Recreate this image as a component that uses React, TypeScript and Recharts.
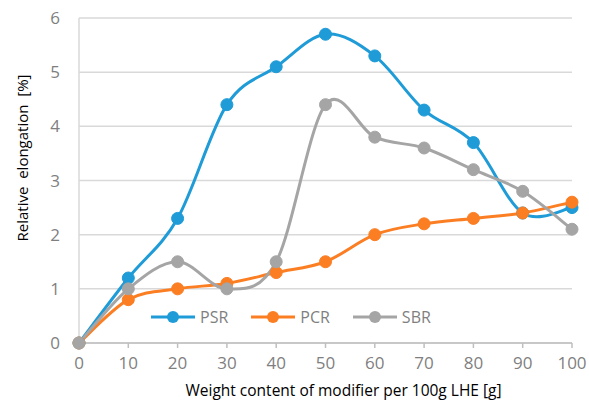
import { CartesianGrid, Line, LineChart, XAxis, YAxis } from "recharts"

const xValues = [0, 10, 20, 30, 40, 50, 60, 70, 80, 90, 100]
const psr = [0, 1.2, 2.3, 4.4, 5.1, 5.7, 5.3, 4.3, 3.7, 2.4, 2.5]
const pcr = [0, 0.8, 1.0, 1.1, 1.3, 1.5, 2.0, 2.2, 2.3, 2.4, 2.6]
const sbr = [0, 1.0, 1.5, 1.0, 1.5, 4.4, 3.8, 3.6, 3.2, 2.8, 2.1]
const yTicks = [0, 1, 2, 3, 4, 5, 6]

const data = xValues.map((x, i) => ({ x, PSR: psr[i], PCR: pcr[i], SBR: sbr[i] }))

const series = [
  { key: "PSR", color: "#1f9bd7" },
  { key: "PCR", color: "#fb7e23" },
  { key: "SBR", color: "#a5a5a5" },
]

// Excel style smoothing (uniform Catmull-Rom as bezier segments)
function smooth(context: any) {
  let pts: number[][] = []
  return {
    areaStart() {},
    areaEnd() {},
    lineStart() {
      pts = []
    },
    point(x: number, y: number) {
      pts.push([+x, +y])
    },
    lineEnd() {
      const n = pts.length
      if (!n) return
      context.moveTo(pts[0][0], pts[0][1])
      for (let i = 0; i < n - 1; i++) {
        const p0 = pts[Math.max(i - 1, 0)]
        const p1 = pts[i]
        const p2 = pts[i + 1]
        const p3 = pts[Math.min(i + 2, n - 1)]
        context.bezierCurveTo(
          p1[0] + (p2[0] - p0[0]) / 6,
          p1[1] + (p2[1] - p0[1]) / 6,
          p2[0] - (p3[0] - p1[0]) / 6,
          p2[1] - (p3[1] - p1[1]) / 6,
          p2[0],
          p2[1]
        )
      }
    },
  }
}

const font = "'Open Sans', 'Noto Sans', sans-serif"

function LegendBox() {
  return (
    <div
      style={{
        position: "absolute",
        top: 308,
        left: 150,
        display: "flex",
        gap: 22,
        fontFamily: font,
        fontSize: 16,
        lineHeight: "18px",
        color: "#7f7f7f",
      }}
    >
      {series.map((s) => (
        <div key={s.key} style={{ display: "flex", alignItems: "center" }}>
          <svg width={46} height={14}>
            <line x1={1} y1={7} x2={45} y2={7} stroke={s.color} strokeWidth={3} />
            <circle cx={23} cy={7} r={6} fill={s.color} />
          </svg>
          <span style={{ marginLeft: 4 }}>{s.key}</span>
        </div>
      ))}
    </div>
  )
}

const YTitle = () => (
  <text
    x={22}
    y={158}
    transform="rotate(-90 22 158)"
    textAnchor="middle"
    dominantBaseline="central"
    fill="#000"
    fontSize={15}
    fontFamily={font}
    style={{ whiteSpace: "pre" }}
  >
    Relative  elongation  [%]
  </text>
)

export default function App() {
  return (
    <div style={{ position: "absolute", left: 0, top: 0, width: 589, height: 403, background: "#fff" }}>
      <LineChart width={589} height={403} data={data} margin={{ top: 18, right: 17, bottom: 0, left: 0 }}>
        <CartesianGrid vertical={false} stroke="#d9d9d9" strokeWidth={1.5} />
        <XAxis
          dataKey="x"
          type="number"
          domain={[0, 100]}
          ticks={xValues}
          height={60}
          stroke="#bfbfbf"
          strokeWidth={1.5}
          tickSize={5}
          tickMargin={9}
          tick={{ fill: "#7f7f7f", fontSize: 17, fontFamily: font }}
          label={{ value: "Weight content of modifier per 100g LHE [g]", position: "insideBottom", offset: 7, fill: "#000", fontSize: 15.5, fontFamily: font, dx: 18 }}
        />
        <YAxis
          width={79}
          domain={[0, 6]}
          ticks={yTicks}
          stroke="#d9d9d9"
          strokeWidth={1.5}
          tickLine={false}
          tickMargin={13}
          tick={{ fill: "#7f7f7f", fontSize: 17, fontFamily: font }}
          label={<YTitle />}
        />
        {series.map((s) => (
          <Line
            key={s.key}
            dataKey={s.key}
            type={smooth as any}
            stroke={s.color}
            strokeWidth={3}
            dot={{ r: 6, fill: s.color, stroke: s.color, strokeWidth: 1 }}
            activeDot={false}
            isAnimationActive={false}
          />
        ))}
      </LineChart>
      <LegendBox />
    </div>
  )
}
